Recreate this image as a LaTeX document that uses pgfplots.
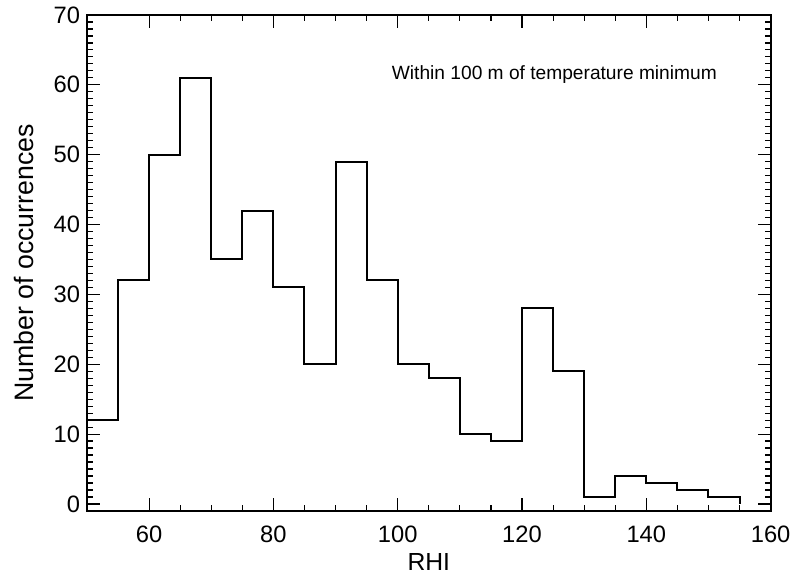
\documentclass[border=0pt]{standalone}
\usepackage{fontspec}
\setmainfont{Liberation Sans}
\usepackage{pgfplots}
\pgfplotsset{compat=1.18}
\begin{document}
\begin{tikzpicture}
\begin{axis}[
  scale only axis,
  width=346pt, height=251pt,
  xmin=50, xmax=160, ymin=-1, ymax=70,
  xtick={60,80,...,160},
  ytick={0,10,...,70},
  minor x tick num=3,
  minor y tick num=9,
  tick align=inside,
  major tick length=6.5pt,
  minor tick length=3pt,
  xtick pos=both, ytick pos=both,
  axis line style={line width=0.9pt},
  every tick/.style={black, line width=0.6pt},
  /pgf/number format/assume math mode=true,
  tick label style={font=\fontsize{12}{14}\selectfont},
  xticklabel style={yshift=-4pt},
  xlabel={RHI},
  ylabel={Number of occurrences},
  xlabel style={font=\fontsize{12.5}{14}\selectfont, at={(axis description cs:0.5,0)}, anchor=base, yshift=-30pt},
  ylabel style={font=\fontsize{13.5}{16}\selectfont, at={(axis description cs:0,0.5)}, anchor=center, yshift=32pt},
]
\addplot[const plot, black, line width=1pt] coordinates {
(50,12) (55,32) (60,50) (65,61) (70,35) (75,42) (80,31) (85,20)
(90,49) (95,32) (100,20) (105,18) (110,10) (115,9) (120,28) (125,19)
(130,1) (135,4) (140,3) (145,2) (150,1) (155,0)
};
\node[font=\fontsize{9.7}{11}\selectfont] at (axis cs:125.2,61.5) {Within 100 m of temperature minimum};
\end{axis}
\path ([xshift=-44pt,yshift=-31.7pt]current axis.south west) rectangle ([xshift=10pt,yshift=7.5pt]current axis.north east);
\end{tikzpicture}
\end{document}
